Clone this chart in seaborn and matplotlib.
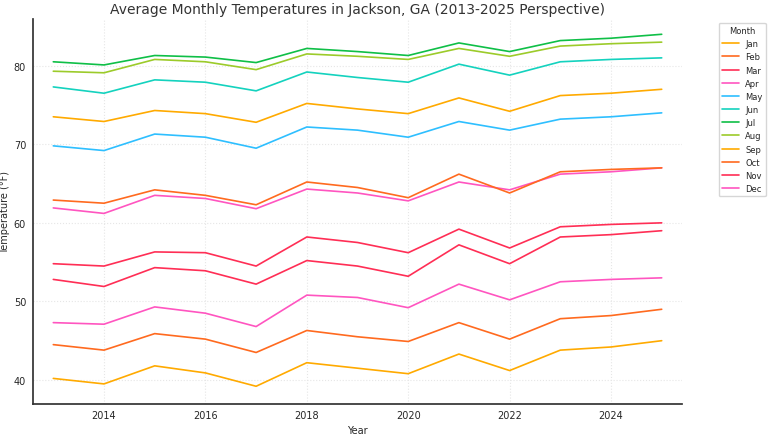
import matplotlib
matplotlib.use("Agg")
import matplotlib.pyplot as plt
import seaborn as sns
import pandas as pd

years = list(range(2013, 2026))
months = ["Jan","Feb","Mar","Apr","May","Jun","Jul","Aug","Sep","Oct","Nov","Dec"]
jan = [40.2,39.5,41.8,40.9,39.2,42.2,41.5,40.8,43.3,41.2,43.8,44.2,45.0]
feb = [44.5,43.8,45.9,45.2,43.5,46.3,45.5,44.9,47.3,45.2,47.8,48.2,49.0]
mar = [52.8,51.9,54.3,53.9,52.2,55.2,54.5,53.2,57.2,54.8,58.2,58.5,59.0]
apr = [61.9,61.2,63.5,63.1,61.8,64.3,63.8,62.8,65.2,64.2,66.2,66.5,67.0]
may = [69.8,69.2,71.3,70.9,69.5,72.2,71.8,70.9,72.9,71.8,73.2,73.5,74.0]
jun = [77.3,76.5,78.2,77.9,76.8,79.2,78.5,77.9,80.2,78.8,80.5,80.8,81.0]
jul = [80.5,80.1,81.3,81.1,80.4,82.2,81.8,81.3,82.9,81.8,83.2,83.5,84.0]
aug = [79.3,79.1,80.8,80.5,79.5,81.5,81.2,80.8,82.2,81.2,82.5,82.8,83.0]
sep = [73.5,72.9,74.3,73.9,72.8,75.2,74.5,73.9,75.9,74.2,76.2,76.5,77.0]
oct_ = [62.9,62.5,64.2,63.5,62.3,65.2,64.5,63.2,66.2,63.8,66.5,66.8,67.0]
nov = [54.8,54.5,56.3,56.2,54.5,58.2,57.5,56.2,59.2,56.8,59.5,59.8,60.0]
dec = [47.3,47.1,49.3,48.5,46.8,50.8,50.5,49.2,52.2,50.2,52.5,52.8,53.0]
series = [jan,feb,mar,apr,may,jun,jul,aug,sep,oct_,nov,dec]

rows = []
for m, vals in zip(months, series):
    for y, v in zip(years, vals):
        rows.append({"Year": y, "Temperature": v, "Month": m})
df = pd.DataFrame(rows)

base = ["#FFAA00", "#FF6A1F", "#FF2E55", "#FF55C0", "#2EBFFF", "#14D2BE", "#0FBF47", "#9CCB2A"]
palette = base + base[:4]

sns.set_theme(style="whitegrid")
fig, ax = plt.subplots(figsize=(7.68, 4.35), dpi=100)
sns.lineplot(data=df, x="Year", y="Temperature", hue="Month", hue_order=months,
             palette=palette, ax=ax, linewidth=1.2)
ax.grid(True, linestyle=":", color="#e6e6e6", linewidth=0.8)
for s in ["top", "right"]:
    ax.spines[s].set_visible(False)
for s in ["left", "bottom"]:
    ax.spines[s].set_color("#333333")
ax.set_facecolor("white")
ax.set_title("Average Monthly Temperatures in Jackson, GA (2013-2025 Perspective)", fontsize=10, color="#333333", pad=4)
ax.set_xlabel("Year", fontsize=7, labelpad=3)
ax.set_ylabel("Temperature (°F)", fontsize=7, labelpad=3)
ax.tick_params(labelsize=7, length=3, pad=2, color="#333333")
ax.set_xticks([2014, 2016, 2018, 2020, 2022, 2024])
ax.set_yticks([40, 50, 60, 70, 80])
ax.set_xlim(2012.6, 2025.4)
ax.set_ylim(37, 86)
leg = ax.legend(title="Month", bbox_to_anchor=(1.05, 1.0), loc="upper left", fontsize=6, title_fontsize=6)
fig.subplots_adjust(left=0.043, right=0.888, top=0.955, bottom=0.07)
fig.savefig("out.png")
